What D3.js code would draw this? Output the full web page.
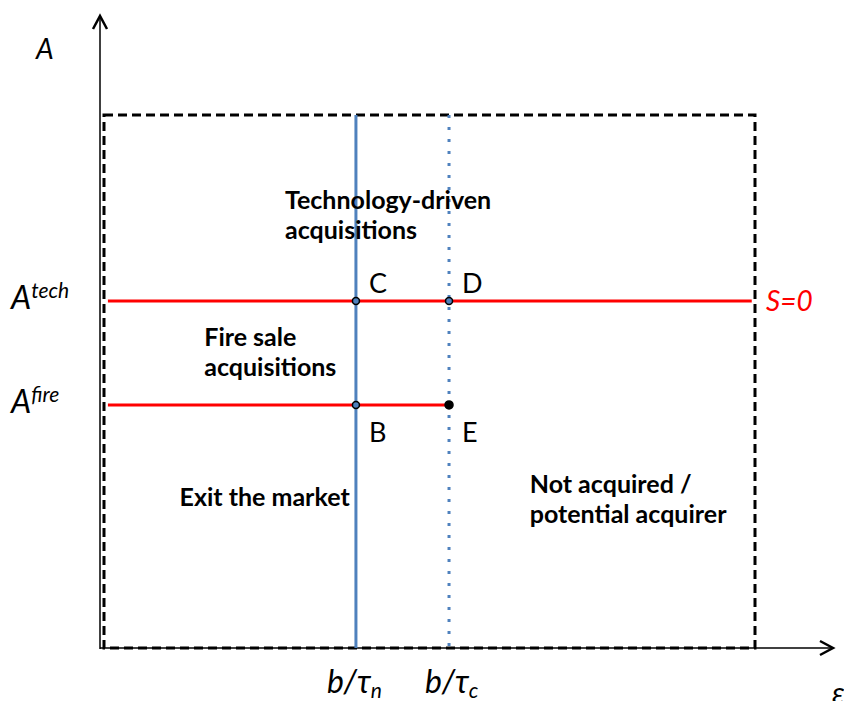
<!DOCTYPE html>
<html>
<head>
<meta charset="utf-8">
<script src="https://cdn.jsdelivr.net/npm/d3@7"></script>
<style>
  body { margin: 0; background: #fff; }
  svg text { font-family: Lato, "Open Sans", sans-serif; }
</style>
</head>
<body>
<div id="chart"></div>
<script>
// thresholds on the epsilon axis (0-100 units across the box)
var epsNames = ["b/τn", "b/τc"];
var epsValues = [38.7, 53.0];

// A levels (0-100 units up the box)
var aNames = ["tech", "fire"];
var aValues = [65.1, 45.6];

// intersection points
var pointLabels = ["C", "D", "B", "E"];
var pointEps = [38.7, 53.0, 38.7, 53.0];
var pointA = [65.1, 65.1, 45.6, 45.6];

// region labels
var regionLines = [["Technology-driven", "acquisitions"], ["Fire sale", "acquisitions"],
                   ["Exit the market"], ["Not acquired /", "potential acquirer"]];
var regionEps = [27.8, 15.4, 11.6, 65.4];
var regionA = [82.4, 56.6, 26.6, 29.1];

var width = 844, height = 701;

var svg = d3.select("#chart").append("svg")
    .attr("width", width)
    .attr("height", height);

var x = d3.scaleLinear().domain([0, 100]).range([104, 755]);
var y = d3.scaleLinear().domain([0, 100]).range([648, 115]);

// axes with arrows
var ax = svg.append("g").attr("stroke", "#000").attr("fill", "none");
ax.append("line").attr("x1", 100).attr("y1", 649).attr("x2", 100).attr("y2", 16).attr("stroke-width", 1.5);
ax.append("path").attr("d", "M93,29 L100,16 L107,29").attr("stroke-width", 2.5);
ax.append("line").attr("x1", 100).attr("y1", 648).attr("x2", 833).attr("y2", 648).attr("stroke-width", 1.5);
ax.append("path").attr("d", "M820,641 L833,648 L820,655").attr("stroke-width", 2.5);

// dashed box
svg.append("rect")
    .attr("x", x(0)).attr("y", y(100))
    .attr("width", x(100) - x(0)).attr("height", y(0) - y(100))
    .attr("fill", "none").attr("stroke", "#000")
    .attr("stroke-width", 3).attr("stroke-dasharray", "9,5");

// vertical threshold lines
svg.selectAll(".vline")
    .data(epsValues)
    .enter().append("line")
    .attr("class", "vline")
    .attr("x1", function (d) { return x(d); })
    .attr("x2", function (d) { return x(d); })
    .attr("y1", y(100)).attr("y2", y(0))
    .attr("stroke", "#4f81bd")
    .attr("stroke-width", 3)
    .attr("stroke-dasharray", function (d, i) { return i === 0 ? null : "3,9"; });

// red horizontal lines
svg.selectAll(".hline")
    .data(aValues)
    .enter().append("line")
    .attr("class", "hline")
    .attr("x1", x(0.6))
    .attr("x2", function (d, i) { return i === 0 ? x(99.5) : x(epsValues[1]); })
    .attr("y1", function (d) { return y(d); })
    .attr("y2", function (d) { return y(d); })
    .attr("stroke", "#ff0000")
    .attr("stroke-width", 3);

// points
svg.selectAll(".pt")
    .data(pointLabels)
    .enter().append("circle")
    .attr("class", "pt")
    .attr("cx", function (d, i) { return x(pointEps[i]); })
    .attr("cy", function (d, i) { return y(pointA[i]); })
    .attr("r", function (d, i) { return i === 3 ? 4 : 3.5; })
    .attr("fill", function (d, i) { return i === 3 ? "#000" : "#4f81bd"; })
    .attr("stroke", "#000").attr("stroke-width", 1.5);

svg.selectAll(".ptlab")
    .data(pointLabels)
    .enter().append("text")
    .attr("class", "ptlab")
    .attr("x", function (d, i) { return x(pointEps[i]) + 13; })
    .attr("y", function (d, i) { return y(pointA[i]) + (i < 2 ? -8 : 37); })
    .attr("font-size", 27)
    .text(function (d) { return d; });

// region labels
regionLines.forEach(function (lines, i) {
    var t = svg.append("text")
        .attr("x", x(regionEps[i]))
        .attr("y", y(regionA[i]))
        .attr("font-size", 25).attr("font-weight", "bold");
    lines.forEach(function (l, j) {
        t.append("tspan").attr("x", x(regionEps[i])).attr("dy", j === 0 ? 0 : 30).text(l);
    });
});

// axis label A
svg.append("text").attr("x", 36).attr("y", 59)
    .attr("font-size", 28).attr("font-style", "italic").text("A");

// A level labels
svg.selectAll(".alab")
    .data(aNames)
    .enter().append("text")
    .attr("class", "alab")
    .attr("x", 11)
    .attr("y", function (d, i) { return y(aValues[i]) + 8; })
    .attr("font-size", 32).attr("font-style", "italic")
    .each(function (d) {
        d3.select(this).append("tspan").text("A");
        d3.select(this).append("tspan").attr("font-size", 21).attr("dy", -11).text(d);
    });

// S=0
svg.append("text").attr("x", 766).attr("y", y(aValues[0]) + 10)
    .attr("font-size", 28).attr("font-style", "italic").attr("fill", "#ff0000").text("S=0");

// epsilon threshold labels
svg.selectAll(".elab")
    .data(epsNames)
    .enter().append("text")
    .attr("class", "elab")
    .attr("x", function (d, i) { return x(epsValues[i]) - (i === 0 ? 29 : 24); })
    .attr("y", 693)
    .attr("font-size", 32).attr("font-style", "italic")
    .each(function (d) {
        d3.select(this).append("tspan").text(d.slice(0, 3));
        d3.select(this).append("tspan").attr("font-size", 21).attr("dy", 5).text(d.slice(3));
    });

// epsilon axis label
svg.append("text").attr("x", 832).attr("y", 704)
    .attr("font-size", 30).attr("font-style", "italic").text("ε");
</script>
</body>
</html>
